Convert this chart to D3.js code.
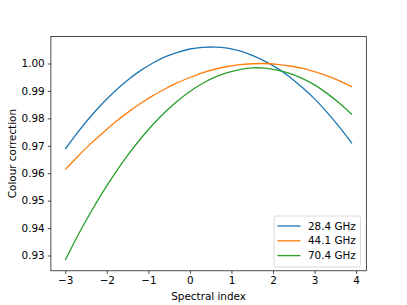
<!DOCTYPE html>
<html>
<head>
<meta charset="utf-8">
<script src="https://cdn.jsdelivr.net/npm/d3@7"></script>
<style>
  body { margin: 0; background: #fff; }
  svg { display: block; font-family: "DejaVu Sans", sans-serif; }
</style>
</head>
<body>
<svg id="plot" width="407" height="305"></svg>
<script>
let width = 407, height = 305;
let margin = {top: 36.4, right: 40.7, bottom: 34.2, left: 50.9};

let spectralIndex = [-3, -2.7, -2.4, -2.1, -1.8, -1.5, -1.2, -0.9, -0.6, -0.3, 0, 0.3,
                     0.6, 0.9, 1.2, 1.5, 1.8, 2.1, 2.4, 2.7, 3.0, 3.3, 3.6, 3.9];

let ghz28 = [0.9688, 0.9749, 0.9805, 0.9855, 0.9900, 0.9939, 0.9973, 1.0001, 1.0024, 1.0041, 1.0053, 1.0059,
             1.0060, 1.0056, 1.0046, 1.0030, 1.0009, 0.9983, 0.9951, 0.9913, 0.9871, 0.9822, 0.9768, 0.9709];
let ghz44 = [0.9613, 0.9661, 0.9706, 0.9747, 0.9786, 0.9821, 0.9853, 0.9882, 0.9907, 0.9930, 0.9949, 0.9966,
             0.9979, 0.9989, 0.9996, 0.9999, 1.0000, 0.9997, 0.9991, 0.9983, 0.9970, 0.9955, 0.9937, 0.9915];
let ghz70 = [0.9283, 0.9372, 0.9454, 0.9530, 0.9600, 0.9665, 0.9723, 0.9776, 0.9822, 0.9863, 0.9898, 0.9927,
             0.9950, 0.9967, 0.9978, 0.9984, 0.9983, 0.9976, 0.9964, 0.9946, 0.9922, 0.9891, 0.9855, 0.9814];

let seriesNames = ["28.4 GHz", "44.1 GHz", "70.4 GHz"];
let seriesValues = [ghz28, ghz44, ghz70];
let colours = ["#1f77b4", "#ff7f0e", "#2ca02c"];

let xTicks = [-3, -2, -1, 0, 1, 2, 3, 4];
let yTicks = [0.93, 0.94, 0.95, 0.96, 0.97, 0.98, 0.99, 1.00];

let series = seriesNames.map((name, i) => ({
  name: name,
  colour: colours[i],
  points: spectralIndex.map((x, j) => ({x: x, y: seriesValues[i][j]}))
}));

function padded(extent) {
  let pad = (extent[1] - extent[0]) * 0.05;
  return [extent[0] - pad, extent[1] + pad];
}

let svg = d3.select("#plot");

let x = d3.scaleLinear()
    .domain(padded(d3.extent(spectralIndex)))
    .range([margin.left, width - margin.right]);

let y = d3.scaleLinear()
    .domain(padded(d3.extent(seriesValues.flat())))
    .range([height - margin.bottom, margin.top]);

let fontSize = 10.4;

let xAxis = g => g
    .attr("transform", `translate(0, ${height - margin.bottom})`)
    .call(d3.axisBottom(x)
            .tickValues(xTicks)
            .tickSize(3.1)
            .tickPadding(3.1)
            .tickFormat(d => d3.format("d")(d).replace("-", "\u2212")))
    .call(g => g.select(".domain").remove())
    .call(g => g.selectAll(".tick line").attr("stroke", "#000").attr("stroke-width", 0.7))
    .call(g => g.selectAll(".tick text")
              .attr("fill", "#000")
              .style("font-size", fontSize + "px")
              .style("font-family", "DejaVu Sans"));

let yAxis = g => g
    .attr("transform", `translate(${margin.left}, 0)`)
    .call(d3.axisLeft(y)
            .tickValues(yTicks)
            .tickSize(3.1)
            .tickPadding(3.1)
            .tickFormat(d3.format(".2f")))
    .call(g => g.select(".domain").remove())
    .call(g => g.selectAll(".tick line").attr("stroke", "#000").attr("stroke-width", 0.7))
    .call(g => g.selectAll(".tick text")
              .attr("fill", "#000")
              .style("font-size", fontSize + "px")
              .style("font-family", "DejaVu Sans"));

svg.append("g").call(xAxis);
svg.append("g").call(yAxis);

let line = d3.line()
    .x(d => x(d.x))
    .y(d => y(d.y))
    .curve(d3.curveNatural);

svg.append("g")
  .selectAll("path")
  .data(series)
  .join("path")
    .attr("fill", "none")
    .attr("stroke", d => d.colour)
    .attr("stroke-width", 1.33)
    .attr("d", d => line(d.points));

// frame
svg.append("rect")
    .attr("x", margin.left)
    .attr("y", margin.top)
    .attr("width", width - margin.left - margin.right)
    .attr("height", height - margin.top - margin.bottom)
    .attr("fill", "none")
    .attr("stroke", "#000")
    .attr("stroke-width", 0.7);

// axis labels
svg.append("text")
    .attr("x", (margin.left + width - margin.right) / 2)
    .attr("y", 299.5)
    .attr("text-anchor", "middle")
    .style("font-size", fontSize + "px")
    .text("Spectral index");

svg.append("text")
    .attr("transform", `translate(16, ${(margin.top + height - margin.bottom) / 2}) rotate(-90)`)
    .attr("text-anchor", "middle")
    .style("font-size", fontSize + "px")
    .text("Colour correction");

// legend
let legend = svg.append("g")
    .attr("transform", `translate(274, 216)`);

legend.append("rect")
    .attr("width", 86.5)
    .attr("height", 51)
    .attr("rx", 2)
    .attr("fill", "#fff")
    .attr("fill-opacity", 0.8)
    .attr("stroke", "#ccc")
    .attr("stroke-width", 0.7);

let item = legend.selectAll("g")
  .data(series)
  .join("g")
    .attr("transform", (d, i) => `translate(0, ${10 + i * 14.8})`);

item.append("line")
    .attr("x1", 3.5)
    .attr("x2", 26.5)
    .attr("stroke", d => d.colour)
    .attr("stroke-width", 1.33);

item.append("text")
    .attr("x", 34)
    .attr("dy", "0.35em")
    .style("font-size", fontSize + "px")
    .text(d => d.name);
</script>
</body>
</html>
